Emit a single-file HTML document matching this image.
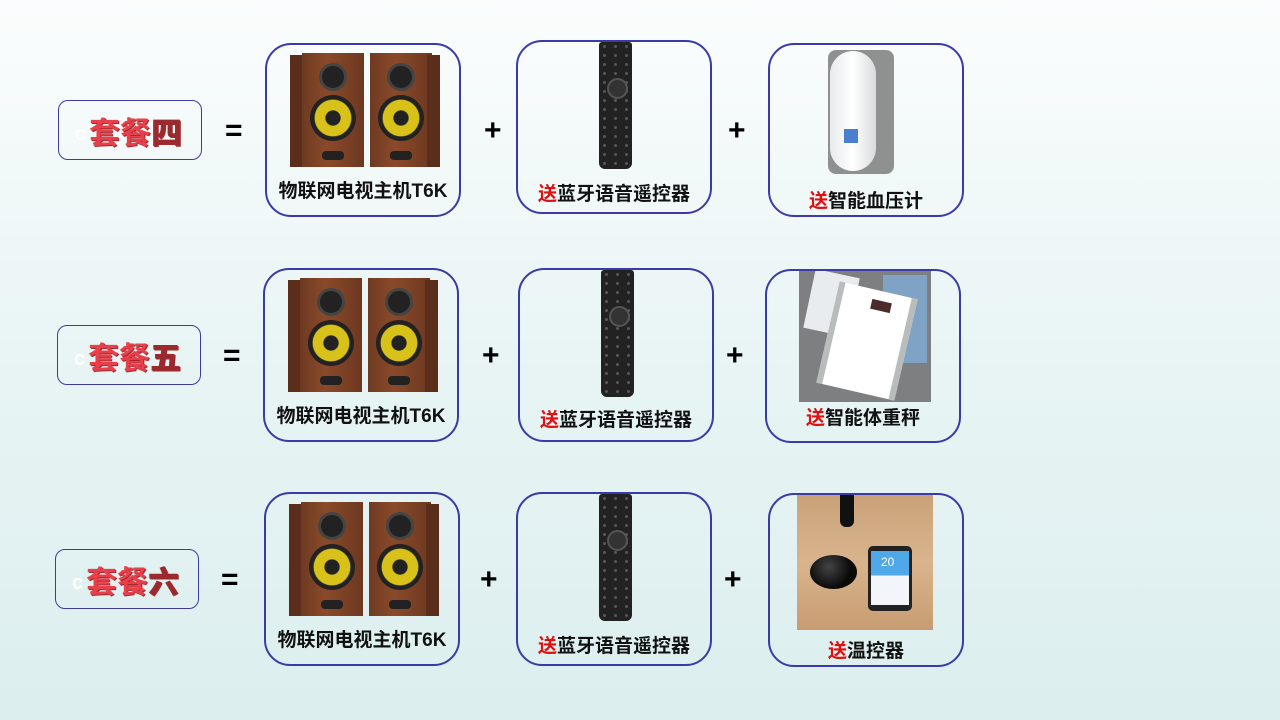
<!DOCTYPE html>
<html><head><meta charset="utf-8">
<style>
*{margin:0;padding:0;box-sizing:border-box}
body{width:1280px;height:720px;overflow:hidden;position:relative;background:linear-gradient(#fbfdfd 0%,#eaf5f5 45%,#dceeee 100%);font-family:"Liberation Sans","Noto Sans CJK SC",sans-serif}
.a{position:absolute}
.lab{position:absolute;width:144px;height:60px;border:1.5px solid #3c3ca0;border-radius:10px}
.lab span{position:absolute;left:30px;top:7px;font-size:31px;font-weight:bold;color:#e8404a;text-shadow:1px 1px 0 #a02a30}
.lab span b{color:#9a2a2e}
.lab i{position:absolute;left:16px;top:22px;font-style:normal;color:#fff;font-size:20px;font-weight:bold}
.op{position:absolute;font-size:30px;font-weight:900;color:#000;line-height:1}
.box{position:absolute;width:196px;height:174px;border:2px solid #3a3aa8;border-radius:26px;overflow:hidden}
.txt{position:absolute;left:0;width:100%;text-align:center;font-size:19px;color:#111;font-weight:bold}
.txt em{font-style:normal;color:#e01010}
.spk{position:absolute;top:8px;width:62px;height:114px;background:linear-gradient(90deg,#6e3a22,#8a4a2a 40%,#6d3820);}
.side{position:absolute;top:10px;width:13px;height:112px;background:#5a2e1a}
.tw{position:absolute;left:17px;top:10px;width:28px;height:28px;border-radius:50%;background:#222;border:3px solid #444}
.wf{position:absolute;left:8px;top:42px;width:46px;height:46px;border-radius:50%;background:radial-gradient(circle,#222 0 22%,#d8c21a 25% 55%,#222 58%)}
.port{position:absolute;left:20px;top:98px;width:22px;height:9px;border-radius:4px;background:#222}
.rem{position:absolute;left:81px;top:0;width:33px;height:127px;background:#222;border-radius:3px 3px 6px 6px;background-image:radial-gradient(circle at 50% 50%,#555 0 20%,transparent 22%);background-size:11px 9px}
.rem:after{content:"";position:absolute;left:8px;top:36px;width:17px;height:17px;border-radius:50%;background:#333;border:2px solid #555}
</style></head><body>

<div class="lab" style="left:58px;top:100px"><i>c</i><span>套餐<b>四</b></span></div>
<div class="op" style="left:225px;top:116px">=</div>
<div class="op" style="left:484px;top:116px">+</div>
<div class="op" style="left:728px;top:116px">+</div>

<div class="box" style="left:265px;top:43px">
 <div class="side" style="left:23px"></div><div class="spk" style="left:35px"><div class="tw"></div><div class="wf"></div><div class="port"></div></div>
 <div class="spk" style="left:103px"><div class="tw"></div><div class="wf"></div><div class="port"></div></div><div class="side" style="left:160px"></div>
 <div class="txt" style="top:131px">物联网电视主机T6K</div>
</div>
<div class="box" style="left:516px;top:40px">
 <div class="rem"></div>
 <div class="txt" style="top:137px"><em>送</em>蓝牙语音遥控器</div>
</div>
<div class="box" style="left:768px;top:43px">
 <div class="a" style="left:58px;top:5px;width:66px;height:124px;background:#8e9190;border-radius:8px"></div>
 <div class="a" style="left:60px;top:6px;width:46px;height:120px;background:linear-gradient(90deg,#e8eaec,#fff,#d8dadc);border-radius:23px"></div>
 <div class="a" style="left:74px;top:84px;width:14px;height:14px;background:#4a7fd0"></div>
 <div class="txt" style="top:141px"><em>送</em>智能血压计</div>
</div>

<div class="lab" style="left:57px;top:325px"><i>c</i><span>套餐<b>五</b></span></div>
<div class="op" style="left:223px;top:341px">=</div>
<div class="op" style="left:482px;top:341px">+</div>
<div class="op" style="left:726px;top:341px">+</div>

<div class="box" style="left:263px;top:268px">
 <div class="side" style="left:23px"></div><div class="spk" style="left:35px"><div class="tw"></div><div class="wf"></div><div class="port"></div></div>
 <div class="spk" style="left:103px"><div class="tw"></div><div class="wf"></div><div class="port"></div></div><div class="side" style="left:160px"></div>
 <div class="txt" style="top:131px">物联网电视主机T6K</div>
</div>
<div class="box" style="left:518px;top:268px">
 <div class="rem"></div>
 <div class="txt" style="top:135px"><em>送</em>蓝牙语音遥控器</div>
</div>
<div class="box" style="left:765px;top:269px">
 <div class="a" style="left:32px;top:0;width:132px;height:131px;background:#7d7f80"></div>
 <div class="a" style="left:42px;top:2px;width:45px;height:60px;background:#e8ecee;transform:rotate(12deg)"></div>
 <div class="a" style="left:116px;top:4px;width:44px;height:88px;background:#7ea3c4"></div>
 <div class="a" style="left:60px;top:18px;width:80px;height:104px;background:#fff;border-left:6px solid #b8bcbb;border-right:6px solid #b8bcbb;transform:rotate(13deg)"></div>
 <div class="a" style="left:104px;top:30px;width:20px;height:10px;background:#4a2c2c;transform:rotate(13deg)"></div>
 <div class="txt" style="top:132px"><em>送</em>智能体重秤</div>
</div>

<div class="lab" style="left:55px;top:549px"><i>c</i><span>套餐<b>六</b></span></div>
<div class="op" style="left:221px;top:565px">=</div>
<div class="op" style="left:480px;top:565px">+</div>
<div class="op" style="left:724px;top:565px">+</div>

<div class="box" style="left:264px;top:492px">
 <div class="side" style="left:23px"></div><div class="spk" style="left:35px"><div class="tw"></div><div class="wf"></div><div class="port"></div></div>
 <div class="spk" style="left:103px"><div class="tw"></div><div class="wf"></div><div class="port"></div></div><div class="side" style="left:160px"></div>
 <div class="txt" style="top:131px">物联网电视主机T6K</div>
</div>
<div class="box" style="left:516px;top:492px">
 <div class="rem"></div>
 <div class="txt" style="top:137px"><em>送</em>蓝牙语音遥控器</div>
</div>
<div class="box" style="left:768px;top:493px">
 <div class="a" style="left:27px;top:0;width:136px;height:135px;background:linear-gradient(#caa27a,#d8b48c 50%,#c89c72)"></div>
 <div class="a" style="left:70px;top:0;width:14px;height:32px;background:#111;border-radius:0 0 6px 6px"></div>
 <div class="a" style="left:40px;top:60px;width:47px;height:34px;border-radius:50%;background:radial-gradient(circle at 40% 35%,#444,#0a0a0a 60%)"></div>
 <div class="a" style="left:98px;top:51px;width:44px;height:65px;background:#222;border-radius:5px"></div>
 <div class="a" style="left:101px;top:56px;width:38px;height:54px;background:linear-gradient(#4fa8e8 0 45%,#f2f6fa 45%)"></div>
 <div class="a" style="left:111px;top:60px;color:#fff;font-size:12px">20</div>
 <div class="txt" style="top:141px"><em>送</em>温控器</div>
</div>
</body></html>
